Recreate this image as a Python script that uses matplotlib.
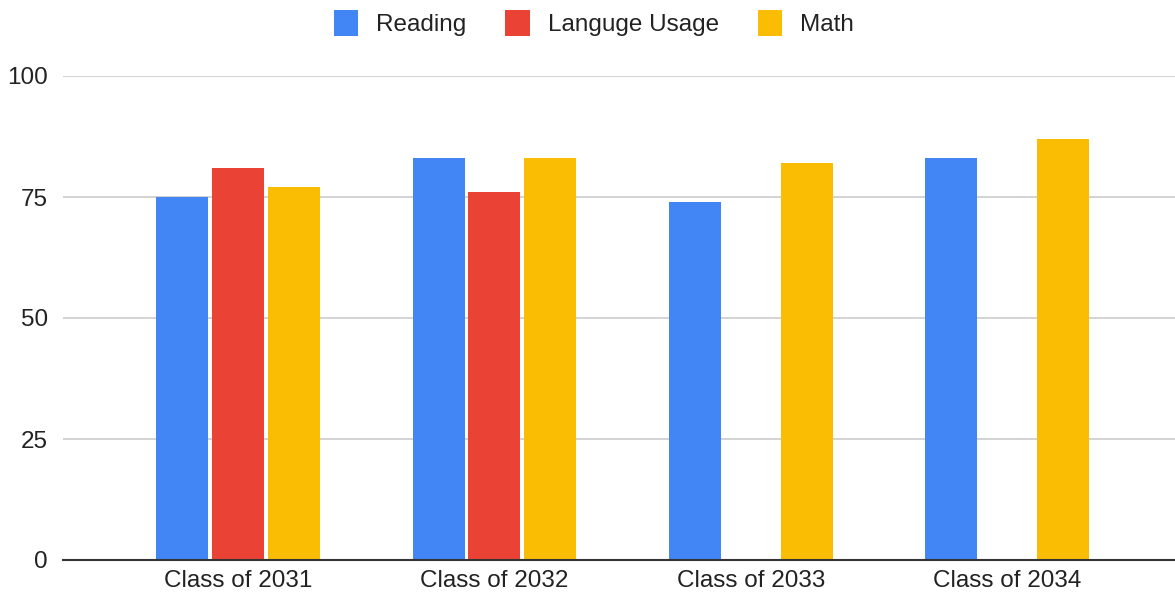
import matplotlib
matplotlib.use("Agg")
import matplotlib.pyplot as plt
import numpy as np

categories = ["Class of 2031", "Class of 2032", "Class of 2033", "Class of 2034"]
reading = [75, 83, 74, 83]
language = [81, 76, np.nan, np.nan]
math_ = [77, 83, 82, 87]
series_names = ["Reading", "Languge Usage", "Math"]
colors = ["#4285F4", "#EA4335", "#FBBC04"]
yticks = [0, 25, 50, 75, 100]

plt.rcParams['font.family'] = ['Liberation Sans', 'DejaVu Sans']

fig = plt.figure(figsize=(11.75, 5.94), dpi=100)
ax = fig.add_axes([63/1175, 34/594, 1 - 63/1175, (560-76)/594])

x = np.arange(len(categories))
w = 0.203
offsets = [-0.218, 0.0, 0.218]
for data, off, c, name in zip([reading, language, math_], offsets, colors, series_names):
    ax.bar(x + off, data, width=w, color=c, label=name, zorder=3)

ax.set_ylim(0, 100)
ax.set_xlim(-0.683, 3.655)
ax.set_yticks(yticks)
ax.set_xticks(x)
ax.set_xticklabels(categories)
ax.tick_params(axis='both', length=0, labelsize=17.5, colors='#222222')
ax.tick_params(axis='y', pad=11)
ax.tick_params(axis='x', pad=7)
ax.yaxis.grid(True, color='#cccccc', linewidth=1.2, zorder=0)
for s in ['top', 'right', 'left']:
    ax.spines[s].set_visible(False)
ax.spines['bottom'].set_color('#333333')
ax.spines['bottom'].set_linewidth(1.5)
ax.spines['bottom'].set_zorder(4)

handles, labels = ax.get_legend_handles_labels()
fig.legend(handles, labels, loc='center', bbox_to_anchor=(594/1175, 1 - 23/594),
           ncol=3, frameon=False, fontsize=17.5, handlelength=1.0, handleheight=1.25,
           handletextpad=0.75, columnspacing=1.6, labelcolor='#222222')

fig.savefig("out.png", dpi=100)
